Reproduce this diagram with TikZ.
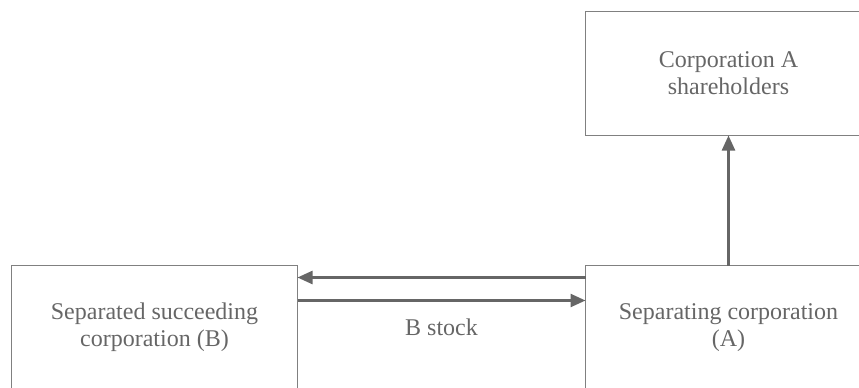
\documentclass[tikz,border=0pt]{standalone}
\usepackage{fontspec}
\setmainfont{Liberation Serif}
\usetikzlibrary{arrows.meta,positioning}
\definecolor{boxline}{gray}{0.50}
\definecolor{arrline}{gray}{0.40}
\definecolor{boxtext}{gray}{0.40}

\begin{document}
\begin{tikzpicture}[x=0.5pt, y=0.5pt,
  box/.style={draw=boxline, line width=0.9pt, align=center, outer sep=0pt,
    minimum width=143pt, minimum height=62pt, text=boxtext,
    font=\fontsize{12}{13.5}\selectfont},
  arr/.style={draw=arrline, line width=1.2pt,
    -{Triangle[length=7.5pt, width=6.5pt]}}]
\clip (0,0) rectangle (859,387);
\node[box] (holders) at (728.5,313.5) {Corporation A\\shareholders};
\node[box, below=65pt of holders] (sepA)
  {Separating corporation\\(A)};
\node[box, left=144pt of sepA] (succB)
  {Separated succeeding\\corporation (B)};
\draw[arr] (sepA.north) -- (holders.south);
\draw[arr] ([yshift=25pt]sepA.west) -- ([yshift=25pt]succB.east);
\draw[arr] ([yshift=13.5pt]succB.east) -- ([yshift=13.5pt]sepA.west)
  node[midway, below=8.5pt, inner sep=0pt, text=boxtext,
    font=\fontsize{12}{13.5}\selectfont]{B stock};
\end{tikzpicture}
\end{document}
